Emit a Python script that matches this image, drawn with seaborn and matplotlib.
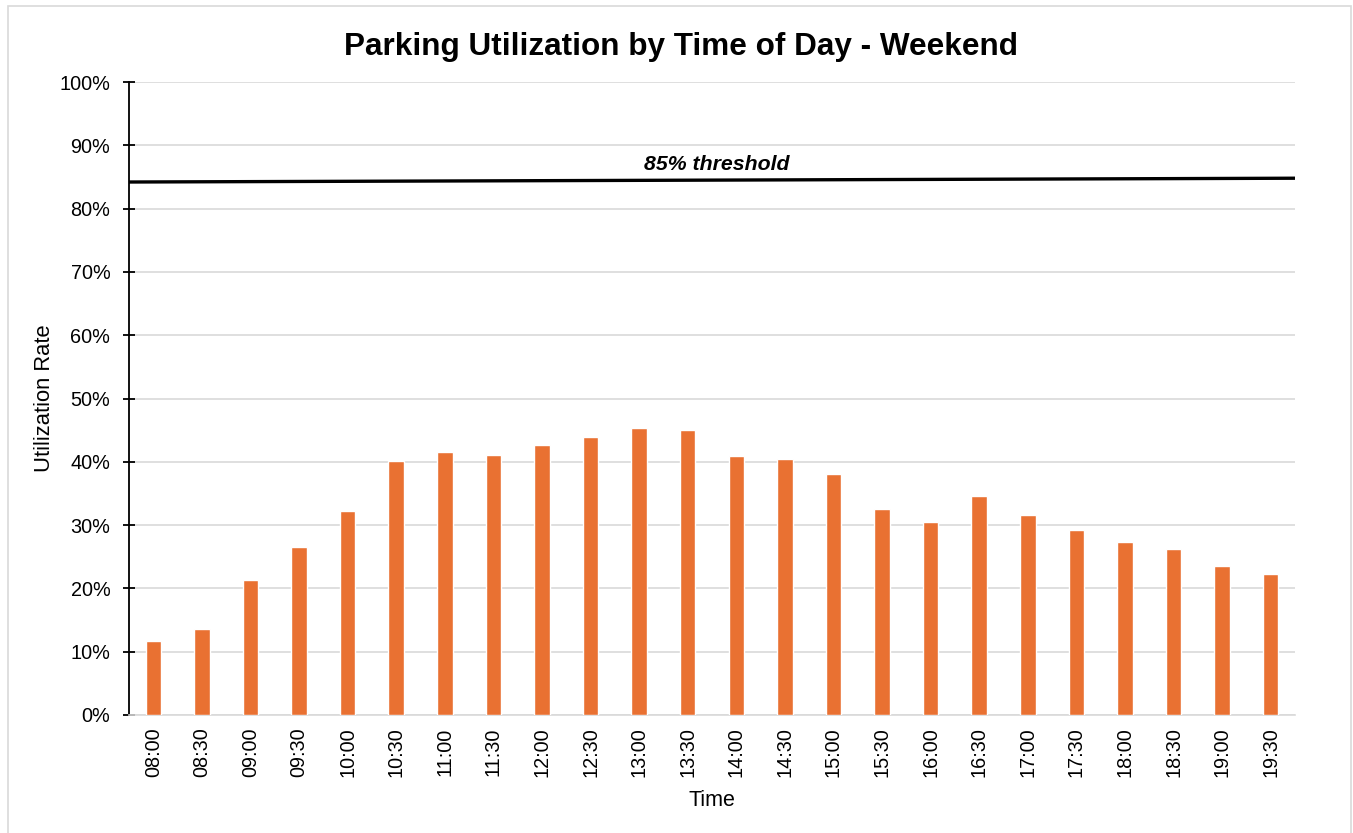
import matplotlib
matplotlib.use("Agg")
import matplotlib.pyplot as plt
import matplotlib.patches as mpatches
from matplotlib.ticker import FuncFormatter, MultipleLocator
import seaborn as sns
import pandas as pd

times = ["08:00", "08:30", "09:00", "09:30", "10:00", "10:30", "11:00", "11:30",
         "12:00", "12:30", "13:00", "13:30", "14:00", "14:30", "15:00", "15:30",
         "16:00", "16:30", "17:00", "17:30", "18:00", "18:30", "19:00", "19:30"]
utilization = [11.7, 13.6, 21.3, 26.5, 32.2, 40.1, 41.5, 41.1, 42.7, 43.9, 45.3, 45.0,
               40.9, 40.4, 38.1, 32.5, 30.5, 34.6, 31.6, 29.2, 27.3, 26.2, 23.5, 22.3]
threshold_ends = [84.2, 84.8]
threshold_label = "85% threshold"

sns.set_theme(style="white")
plt.rcParams["font.family"] = ["Liberation Sans", "DejaVu Sans"]

df = pd.DataFrame({"Time": times, "Utilization": utilization})

fig = plt.figure(figsize=(13.53, 8.33), dpi=100)
ax = fig.add_axes([129/1353, 1 - 715/833, (1295-129)/1353, (715-82)/833])

sns.barplot(data=df, x="Time", y="Utilization", color="#E97132", width=0.32,
            saturation=1, ax=ax, zorder=3)

ax.set_ylim(0, 100)
ax.set_xlim(-0.5, len(times) - 0.5)
ax.yaxis.set_major_locator(MultipleLocator(10))
ax.yaxis.set_major_formatter(FuncFormatter(lambda v, p: f"{v:.0f}%"))
ax.grid(axis="y", color="#D9D9D9", linewidth=1.2, zorder=0)
ax.set_axisbelow(True)

for s in ["top", "right"]:
    ax.spines[s].set_visible(False)
ax.spines["left"].set_color("black")
ax.spines["left"].set_linewidth(1.3)
ax.spines["bottom"].set_color("#D9D9D9")
ax.spines["bottom"].set_linewidth(1.2)

ax.tick_params(axis="y", direction="inout", length=9, width=1.3, color="black",
               labelsize=14.3, pad=9, left=True)
ax.tick_params(axis="x", length=0, labelsize=14.3, pad=9, rotation=90, bottom=False)
for lbl in ax.get_yticklabels() + ax.get_xticklabels():
    lbl.set_color("black")

# threshold line spanning the plot width
ax.plot([-0.5, len(times) - 0.5], threshold_ends, color="black", linewidth=2.4,
        zorder=4, solid_capstyle="butt")
ax.text(11.6, 85.5, threshold_label, ha="center", va="bottom", fontsize=15.3,
        fontweight="bold", fontstyle="italic", color="black")

ax.set_xlabel("Time", fontsize=15.5, color="black", labelpad=9)
ax.set_ylabel("Utilization Rate", fontsize=15.8, color="black", labelpad=3)

fig.suptitle("Parking Utilization by Time of Day - Weekend", x=0.503, y=0.962,
             fontsize=22.7, fontweight="bold", color="black")

border = mpatches.Rectangle((8/1353, -0.01), (1351-8)/1353, (833-6)/833 + 0.01,
                            transform=fig.transFigure, fill=False,
                            edgecolor="#D9D9D9", linewidth=1.2)
fig.patches.append(border)

fig.savefig("out.png", dpi=100)
